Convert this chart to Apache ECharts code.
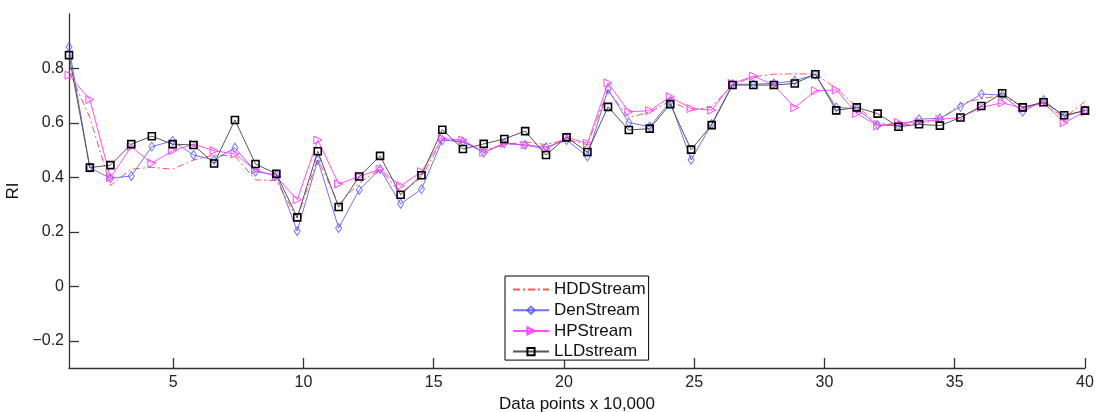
<!DOCTYPE html>
<html>
<head>
<meta charset="utf-8">
<script src="https://cdn.jsdelivr.net/npm/echarts@6/dist/echarts.min.js"></script>
<style>
  html, body { margin: 0; padding: 0; background: #fff; }
  #chart { width: 1104px; height: 412px; }
</style>
</head>
<body>
<div id="chart"></div>
<script>
// Sample positions along the stream (x 10,000 data points)
const xPositions = [1.00, 1.80, 2.59, 3.39, 4.18, 4.98, 5.78, 6.57, 7.37, 8.16,
  8.96, 9.76, 10.55, 11.35, 12.14, 12.94, 13.73, 14.53, 15.33, 16.12,
  16.92, 17.71, 18.51, 19.31, 20.10, 20.90, 21.69, 22.49, 23.29, 24.08,
  24.88, 25.67, 26.47, 27.27, 28.06, 28.86, 29.65, 30.45, 31.24, 32.04,
  32.84, 33.63, 34.43, 35.22, 36.02, 36.82, 37.61, 38.41, 39.20, 40.00];

// RI per method
const hddStream = [0.79, 0.62, 0.37, 0.43, 0.437, 0.43, 0.464, 0.482, 0.479, 0.391,
  0.388, 0.25, 0.47, 0.30, 0.38, 0.43, 0.342, 0.40, 0.54, 0.53,
  0.50, 0.52, 0.53, 0.52, 0.54, 0.52, 0.72, 0.62, 0.64, 0.68,
  0.645, 0.66, 0.74, 0.769, 0.779, 0.78, 0.78, 0.727, 0.66, 0.60,
  0.59, 0.60, 0.61, 0.67, 0.69, 0.70, 0.66, 0.67, 0.62, 0.678];

const denStream = [0.879, 0.435, 0.397, 0.405, 0.513, 0.534, 0.482, 0.464, 0.509, 0.421,
  0.409, 0.203, 0.464, 0.214, 0.354, 0.430, 0.303, 0.357, 0.537, 0.531,
  0.491, 0.525, 0.519, 0.511, 0.537, 0.477, 0.723, 0.601, 0.586, 0.678,
  0.464, 0.596, 0.742, 0.742, 0.745, 0.755, 0.778, 0.657, 0.652, 0.592,
  0.590, 0.614, 0.617, 0.659, 0.706, 0.702, 0.641, 0.684, 0.623, 0.647];

const hpStream = [0.775, 0.686, 0.399, 0.513, 0.452, 0.498, 0.522, 0.498, 0.486, 0.427,
  0.403, 0.318, 0.537, 0.376, 0.403, 0.430, 0.369, 0.421, 0.543, 0.537,
  0.491, 0.525, 0.519, 0.503, 0.547, 0.525, 0.747, 0.641, 0.645, 0.696,
  0.653, 0.647, 0.745, 0.772, 0.739, 0.656, 0.718, 0.721, 0.635, 0.589,
  0.601, 0.604, 0.613, 0.620, 0.657, 0.674, 0.653, 0.674, 0.601, 0.641];

const lldStream = [0.849, 0.436, 0.445, 0.522, 0.551, 0.522, 0.519, 0.451, 0.611, 0.449,
  0.413, 0.253, 0.496, 0.291, 0.403, 0.479, 0.336, 0.408, 0.575, 0.504,
  0.523, 0.541, 0.570, 0.482, 0.547, 0.493, 0.659, 0.574, 0.579, 0.669,
  0.502, 0.592, 0.739, 0.739, 0.739, 0.745, 0.779, 0.646, 0.657, 0.634,
  0.586, 0.595, 0.590, 0.620, 0.662, 0.709, 0.657, 0.676, 0.628, 0.645];

const xTicks = [5, 10, 15, 20, 25, 30, 35, 40];
const yTicks = [-0.2, 0, 0.2, 0.4, 0.6, 0.8];

const FONT = 'Liberation Sans, Arial, sans-serif';
const pair = arr => arr.map((v, i) => [xPositions[i], v]);

const chart = echarts.init(document.getElementById('chart'), null, { renderer: 'canvas' });

chart.setOption({
  animation: false,
  backgroundColor: '#fff',
  grid: { left: 69, right: 19, top: 14, bottom: 44, containLabel: false, outerBoundsMode: 'none' },
  legend: {
    orient: 'vertical',
    left: 505,
    top: 276,
    width: 142,
    padding: [5, 3, 0, 7],
    itemWidth: 36,
    itemHeight: 9,
    itemGap: 3.7,
    backgroundColor: '#fff',
    borderColor: '#000',
    borderWidth: 1,
    textStyle: { fontFamily: FONT, fontSize: 17, lineHeight: 17, color: '#111' },
    data: [
      { name: 'HDDStream', itemStyle: { opacity: 0 } },
      'DenStream', 'HPStream', 'LLDstream'
    ]
  },
  xAxis: {
    type: 'value',
    min: 1,
    max: 40,
    name: 'Data points x 10,000',
    nameLocation: 'middle',
    nameGap: 27,
    nameTextStyle: { fontFamily: FONT, fontSize: 17, color: '#111' },
    axisLine: { show: true, onZero: false, lineStyle: { color: '#333', width: 1.3 } },
    axisTick: { show: true, inside: true, length: 10, customValues: xTicks, lineStyle: { color: '#333', width: 1.3 } },
    axisLabel: { customValues: xTicks, fontFamily: FONT, fontSize: 16, color: '#222', margin: 7 },
    splitLine: { show: false }
  },
  yAxis: {
    type: 'value',
    min: -0.3,
    max: 1.0,
    name: 'RI',
    nameLocation: 'middle',
    nameRotate: 90,
    nameGap: 44,
    nameTextStyle: { fontFamily: FONT, fontSize: 17, color: '#111' },
    axisLine: { show: true, onZero: false, lineStyle: { color: '#333', width: 1.3 } },
    axisTick: { show: true, inside: true, length: 10, customValues: yTicks, lineStyle: { color: '#333', width: 1.3 } },
    axisLabel: {
      customValues: yTicks,
      fontFamily: FONT, fontSize: 16, color: '#222', margin: 5,
      formatter: v => (v < 0 ? '\u2212' + Math.abs(v) : String(v))
    },
    splitLine: { show: false }
  },
  series: [
    {
      name: 'HDDStream',
      type: 'line',
      data: pair(hddStream),
      symbol: 'none',
      lineStyle: { color: '#ff2020', width: 1, type: [7, 3, 2, 3], opacity: 0.75 },
      itemStyle: { color: '#ff2020' },
      z: 2
    },
    {
      name: 'DenStream',
      type: 'line',
      data: pair(denStream),
      symbol: 'diamond',
      symbolSize: [6, 9],
      lineStyle: { color: '#3333ff', width: 1, opacity: 0.7 },
      itemStyle: { color: 'rgba(0,0,0,0)', borderColor: '#5555ff', borderWidth: 1, opacity: 0.8 },
      z: 3
    },
    {
      name: 'HPStream',
      type: 'line',
      data: pair(hpStream),
      symbol: 'triangle',
      symbolRotate: -90,
      symbolSize: [8, 8],
      lineStyle: { color: '#ff33ff', width: 1, opacity: 0.85 },
      itemStyle: { color: 'rgba(0,0,0,0)', borderColor: '#ff44ff', borderWidth: 1 },
      z: 4
    },
    {
      name: 'LLDstream',
      type: 'line',
      data: pair(lldStream),
      symbol: 'rect',
      symbolSize: 7,
      lineStyle: { color: '#555', width: 1 },
      itemStyle: { color: 'rgba(0,0,0,0)', borderColor: '#000', borderWidth: 1.6 },
      z: 5
    }
  ]
});
</script>
</body>
</html>
